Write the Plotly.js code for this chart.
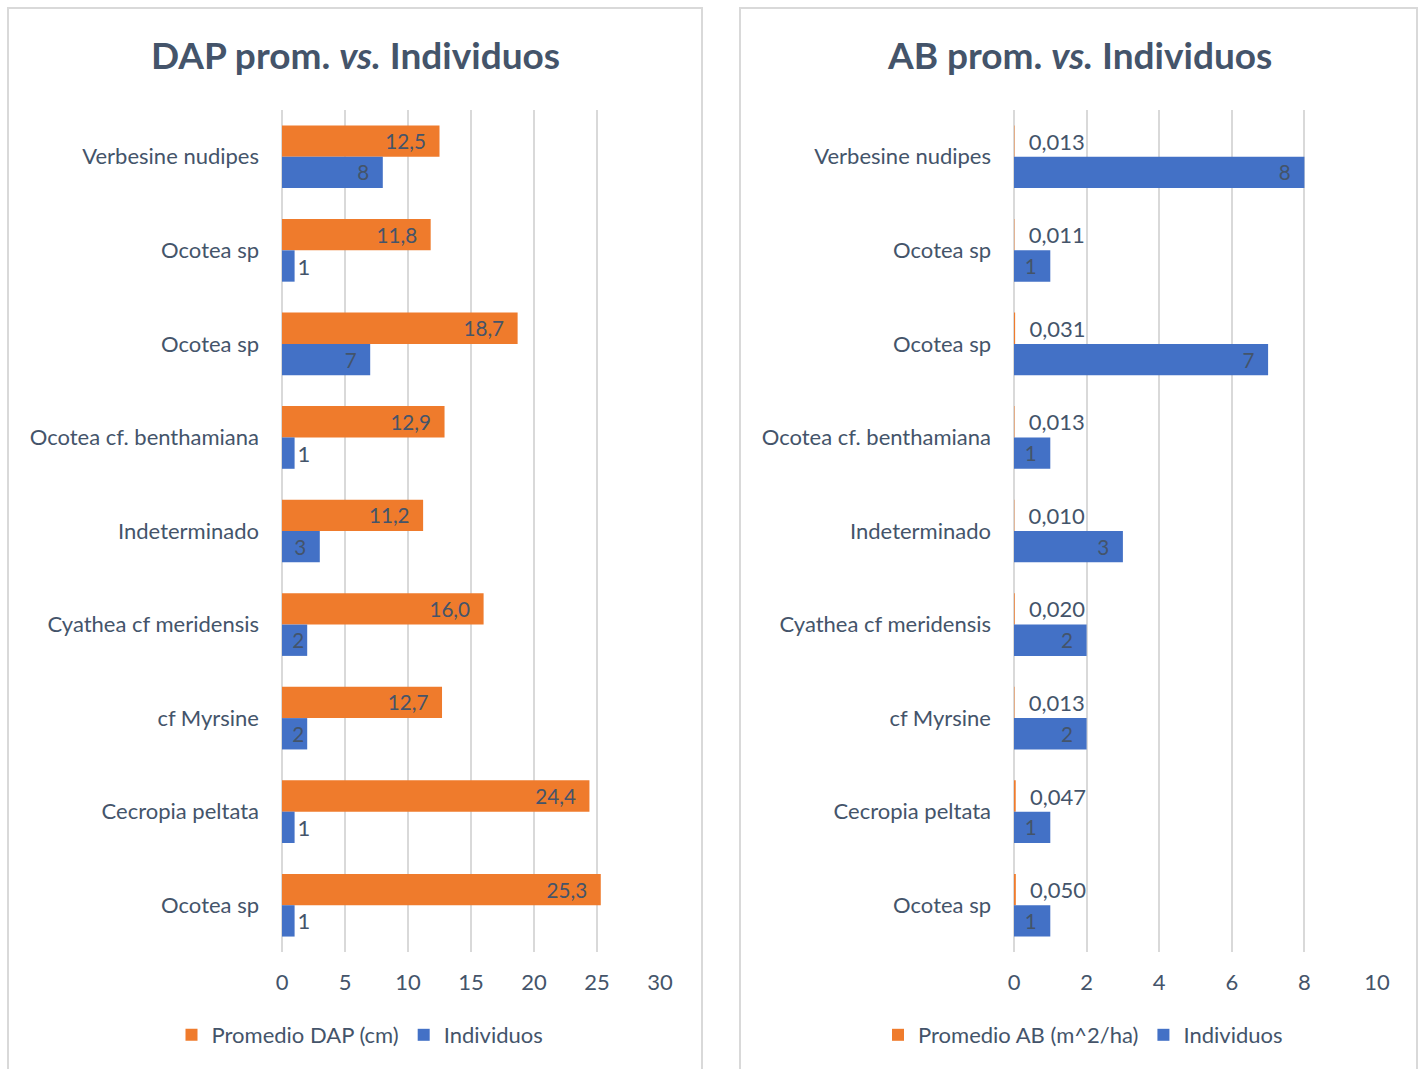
<!DOCTYPE html>
<html>
<head>
<meta charset="utf-8">
<script src="https://cdn.plot.ly/plotly-3.0.1.min.js"></script>
<style>html,body{margin:0;padding:0;background:#fff;}#chart{width:1421px;height:1069px;}</style>
</head>
<body>
<div id="chart"></div>
<script>
// ---- data ----
const species = ["Verbesine nudipes", "Ocotea sp", "Ocotea sp", "Ocotea cf. benthamiana", "Indeterminado",
                 "Cyathea cf meridensis", "cf Myrsine", "Cecropia peltata", "Ocotea sp"];
const promedioDAP = [12.5, 11.8, 18.7, 12.9, 11.2, 16.0, 12.7, 24.4, 25.3];
const individuos = [8, 1, 7, 1, 3, 2, 2, 1, 1];
const promedioAB = [0.013, 0.011, 0.031, 0.013, 0.010, 0.020, 0.013, 0.047, 0.050];
const xTicksDAP = [0, 5, 10, 15, 20, 25, 30];
const xTicksAB = [0, 2, 4, 6, 8, 10];
const titleLeft = "DAP prom. <i>vs.</i> Individuos";
const titleRight = "AB prom. <i>vs.</i> Individuos";

// ---- styling ----
const W = 1421, H = 1069;
const FONT = "Lato, 'Open Sans', sans-serif";
const TXT = "#44546A";
const ORANGE = "#EF7B2C";
const BLUE = "#4371C6";
const GRID = "#D9D9D9";
const FS = 22;
const PAD = "\u00a0\u00a0";
const pos = species.map((_, i) => i);
const px = v => v / W;
const py = v => 1 - v / H;

const traces = [
  {type: "bar", orientation: "h", name: "Promedio DAP (cm)", x: promedioDAP, y: pos,
   xaxis: "x", yaxis: "y", legend: "legend", marker: {color: ORANGE},
   texttemplate: "%{x:.1f}" + PAD, textposition: "inside", insidetextanchor: "end", textangle: 0,
   textfont: {family: FONT, size: FS, color: TXT}, hoverinfo: "x"},
  {type: "bar", orientation: "h", name: "Individuos", x: individuos, y: pos,
   xaxis: "x", yaxis: "y", legend: "legend", marker: {color: BLUE},
   texttemplate: individuos.map(v => v > 2 ? "%{x}" + PAD : "%{x}"),
   textposition: individuos.map(v => v > 1 ? "inside" : "outside"),
   insidetextanchor: "end", textangle: 0, cliponaxis: false,
   textfont: {family: FONT, size: FS, color: TXT}, hoverinfo: "x"},
  {type: "bar", orientation: "h", name: "Promedio AB (m^2/ha)", x: promedioAB, y: pos,
   xaxis: "x2", yaxis: "y2", legend: "legend2", marker: {color: ORANGE},
   texttemplate: PAD + "%{x:.3f}", textposition: "outside", textangle: 0, cliponaxis: false,
   textfont: {family: FONT, size: FS, color: TXT}, hoverinfo: "x"},
  {type: "bar", orientation: "h", name: "Individuos", x: individuos, y: pos,
   xaxis: "x2", yaxis: "y2", legend: "legend2", marker: {color: BLUE},
   texttemplate: "%{x}" + PAD, textposition: "inside", insidetextanchor: "end", textangle: 0,
   textfont: {family: FONT, size: FS, color: TXT}, hoverinfo: "x"}
];

function xax(domain, range, ticks, anchor) {
  return {domain: domain, range: range, tickvals: ticks, ticktext: ticks.map(String),
          anchor: anchor, showgrid: true, gridcolor: GRID, gridwidth: 2,
          zeroline: true, zerolinecolor: GRID, zerolinewidth: 2, showline: false,
          ticks: "", ticklabelstandoff: 15, tickfont: {family: FONT, size: FS, color: TXT},
          fixedrange: true};
}
function yax(anchor) {
  return {domain: [py(952), py(110)], anchor: anchor, range: [species.length - 0.5, -0.5],
          tickvals: pos, ticktext: species, showgrid: false, zeroline: false, ticks: "",
          ticklabelstandoff: 22, tickfont: {family: FONT, size: FS, color: TXT}, fixedrange: true};
}

const layout = {
  width: W, height: H, margin: {l: 0, r: 0, t: 0, b: 0},
  paper_bgcolor: "#fff", plot_bgcolor: "#fff",
  separators: ",.",
  barmode: "group", bargap: 0.33, bargroupgap: 0,
  font: {family: FONT, color: TXT},
  showlegend: true,
  xaxis: xax([px(282), px(660)], [0, 30], xTicksDAP, "y"),
  yaxis: yax("x"),
  xaxis2: xax([px(1014), px(1377)], [0, 10], xTicksAB, "y2"),
  yaxis2: yax("x2"),
  legend: {orientation: "h", x: px(360), xanchor: "center", y: py(1035), yanchor: "middle",
           font: {family: FONT, size: FS, color: TXT}, itemwidth: 30, traceorder: "normal",
           bgcolor: "rgba(0,0,0,0)"},
  legend2: {orientation: "h", x: px(1083), xanchor: "center", y: py(1035), yanchor: "middle",
            font: {family: FONT, size: FS, color: TXT}, itemwidth: 30, traceorder: "normal",
            bgcolor: "rgba(0,0,0,0)"},
  annotations: [
    {text: "<b>" + titleLeft + "</b>", xref: "paper", yref: "paper", x: px(355), y: py(54),
     xanchor: "center", yanchor: "middle", showarrow: false, font: {family: FONT, size: 37, color: TXT}},
    {text: "<b>" + titleRight + "</b>", xref: "paper", yref: "paper", x: px(1079), y: py(54),
     xanchor: "center", yanchor: "middle", showarrow: false, font: {family: FONT, size: 37, color: TXT}}
  ],
  shapes: [
    {type: "rect", xref: "paper", yref: "paper", x0: px(8), x1: px(702), y0: -0.02, y1: py(8),
     line: {color: GRID, width: 2}, fillcolor: "rgba(0,0,0,0)", layer: "below"},
    {type: "rect", xref: "paper", yref: "paper", x0: px(740), x1: px(1417), y0: -0.02, y1: py(8),
     line: {color: GRID, width: 2}, fillcolor: "rgba(0,0,0,0)", layer: "below"}
  ]
};

Plotly.newPlot("chart", traces, layout, {displayModeBar: false, staticPlot: true});
</script>
</body>
</html>
